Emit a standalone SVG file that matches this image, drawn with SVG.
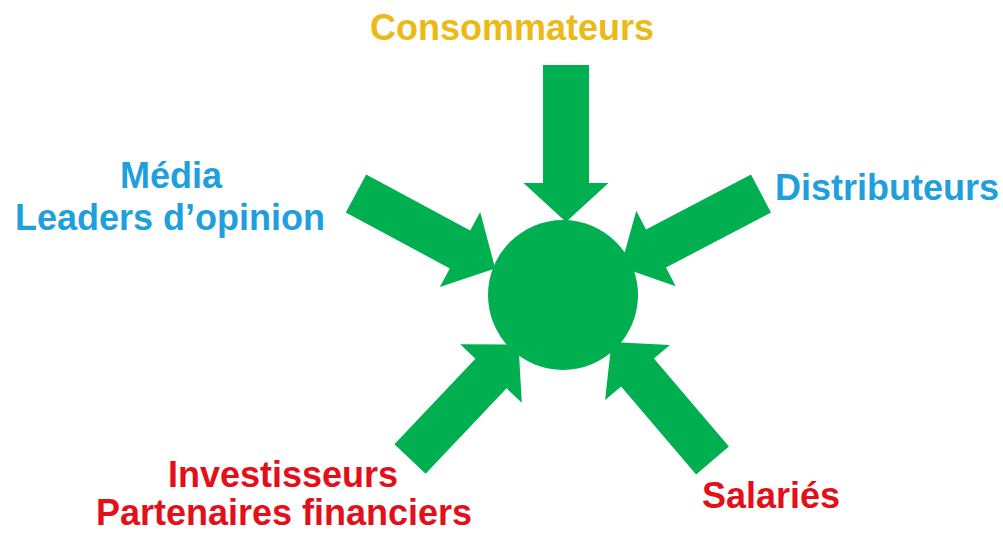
<svg xmlns="http://www.w3.org/2000/svg" width="1003" height="536" viewBox="0 0 1003 536">
<style>
.arr{fill:#00B050;}
.hub{fill:#00B050;}
text{font-family:"Liberation Sans",Arial,sans-serif;font-weight:bold;font-size:36px;}
.gold{fill:#EBBA16;}
.blue{fill:#1FA0DD;}
.red{fill:#E3101A;}
</style>
<rect width="1003" height="536" fill="#ffffff"/>
<g id="connectors">
<polygon class="arr" points="543,65 589,65 589,183 608.5,183 566,222 523.5,183 543,183"/>
<polygon class="arr" points="345.8,212.4 366.2,174.6 470.2,230.6 480.2,212.1 495.2,268.5 439.8,286.9 449.8,268.4"/>
<polygon class="arr" points="751,174.5 771,212.5 666,267.5 675.7,286.2 620.6,267.1 636.3,210.8 646,229.5"/>
<polygon class="arr" points="425.6,473.8 394.4,444.2 475.4,358.7 460.2,344.3 518.5,344.5 521.8,402.7 506.6,388.3"/>
<polygon class="arr" points="728.9,446.6 696.1,474.4 621.1,386.4 605.1,400.1 611.5,342.1 669.9,344.9 653.9,358.6"/>
</g>
<g id="center">
<circle class="hub" cx="563" cy="295" r="75"/>
</g>
<g id="consommateurs">
<text class="gold" x="512" y="40" text-anchor="middle">Consommateurs</text>
</g>
<g id="media">
<text class="blue" x="171" y="188" text-anchor="middle">Média</text>
<text class="blue" x="170" y="230" text-anchor="middle">Leaders d’opinion</text>
</g>
<g id="distributeurs">
<text class="blue" x="775" y="200">Distributeurs</text>
</g>
<g id="investisseurs">
<text class="red" x="283" y="487" text-anchor="middle">Investisseurs</text>
<text class="red" x="284" y="525" text-anchor="middle">Partenaires financiers</text>
</g>
<g id="salaries">
<text class="red" x="771" y="508" text-anchor="middle">Salariés</text>
</g>
</svg>
